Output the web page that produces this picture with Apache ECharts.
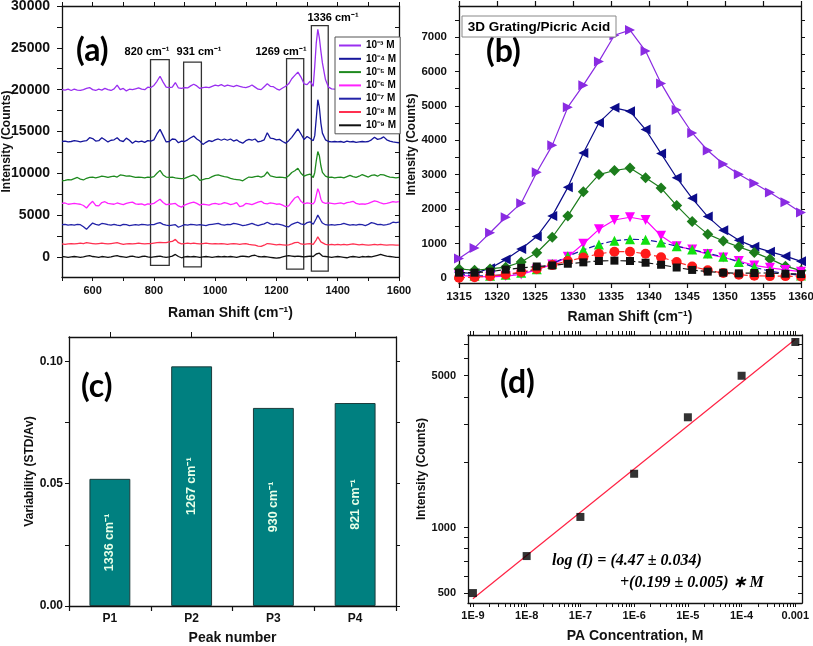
<!DOCTYPE html>
<html><head><meta charset="utf-8">
<script src="https://cdn.jsdelivr.net/npm/echarts@6/dist/echarts.min.js"></script>
<style>html,body{margin:0;padding:0;background:#fff}#c{width:813px;height:646px}</style>
</head><body><div id="c"></div>
<script>
// ---------- Panel (a): Raman spectra ----------
const ramanShift = [
 500,510,520,530,540,550,560,570,580,590,
 600,610,620,630,640,650,660,670,680,690,
 700,710,720,730,740,750,760,770,780,790,
 800,810,820,830,840,850,860,870,880,890,
 900,910,920,930,940,950,960,970,980,990,
 1000,1010,1020,1030,1040,1050,1060,1070,1080,1090,
 1100,1110,1120,1130,1140,1150,1160,1170,1180,1190,
 1200,1210,1220,1230,1240,1250,1260,1270,1280,1290,
 1300,1310,1320,1325,1330,1335,1340,1345,1350,1360,
 1370,1380,1390,1400,1410,1420,1430,1440,1450,1460,
 1470,1480,1490,1500,1510,1520,1530,1540,1550,1560,
 1570,1580,1590,1600];
const spec1e3 = [
 20000,19950,20050,19900,20050,19950,19900,20000,20150,20250,
 20000,19900,20050,19950,20150,20000,19900,20100,20550,20000,
 20150,19850,20050,20000,20100,20200,20050,20000,20300,20250,
 20500,21000,21600,20900,20300,20250,20300,20850,20200,20150,
 20250,20200,20450,20650,20450,20150,20250,20300,20250,20400,
 20550,20450,20600,20400,20550,20450,20350,20500,20400,20300,
 20250,20350,20550,20300,20050,20000,20350,20700,20400,20350,
 20100,19950,20200,20400,20700,21300,21700,22100,21500,20700,
 20600,21000,20400,22800,25600,27200,26200,24600,23200,21200,
 20300,20100,20050,20000,20100,20000,19950,20050,20000,19950,
 20050,20100,20000,19950,20050,20000,20100,20000,19950,20050,
 20000,19950,19900,19900];
const spec1e4 = [
 13800,13850,13750,13800,13900,13850,13750,13850,13900,14250,
 14150,13850,13900,14250,14000,13750,13950,14000,14250,13900,
 13800,14200,13950,13600,13850,13750,13850,13700,13900,13850,
 14000,14700,15250,14500,13750,13800,14100,14050,13650,13850,
 13800,14000,14250,14450,14100,13850,13450,13700,13900,13800,
 14000,14100,13950,14100,13950,14100,13850,14000,13750,13600,
 13900,14050,13950,14100,13750,13850,14000,14850,14200,14150,
 14000,14050,13800,13600,13900,14300,14800,15300,14700,14050,
 14400,14150,13900,14500,16600,18800,17900,16000,14800,14000,
 13800,13750,13800,13750,13800,13700,13850,13750,13800,13700,
 13750,13800,13750,13800,14000,14300,14050,14150,14350,14000,
 13850,13750,13700,13650];
const spec1e5 = [
 9100,9150,9250,9200,9350,9500,9300,9200,9400,9500,
 9550,9450,9550,9650,9600,9500,9600,9650,9550,9800,
 9750,9650,9700,9600,9500,9550,9500,9450,9550,9500,
 9600,10000,10350,9800,9550,9500,9550,9450,9400,9350,
 9400,9550,9700,9800,9600,9150,9250,9350,9400,9600,
 9750,9800,9700,9600,9550,9400,9300,9250,9200,9100,
 9350,9550,9500,9600,9650,9550,9700,10150,9700,9600,
 9500,9550,9500,9450,9700,10100,10300,10600,10000,9650,
 9800,9900,9500,10100,11500,12600,12100,10900,10100,9650,
 9500,9550,9450,9500,9550,9450,9600,9750,9600,9500,
 9650,9850,9700,9550,9750,9800,9650,9850,9800,9650,
 9550,9500,9450,9500];
const spec1e6 = [
 6400,6450,6300,6350,6400,6350,6300,6150,5850,6300,
 6650,6150,6100,6500,6600,6400,6350,6300,6450,6350,
 6250,6400,6500,6550,6350,6300,6350,6200,6350,6300,
 6400,6650,6900,6500,6250,6300,6350,6400,6100,5950,
 6200,6350,6450,6550,6400,6200,6300,6250,6200,6350,
 6400,6300,6350,6500,6400,6250,6350,6500,6000,6100,
 6400,6350,6250,6400,6550,6650,6400,6350,6450,6400,
 6300,6350,6200,6000,6100,6600,7050,7250,6650,6350,
 6450,6400,6350,6600,7400,8150,7700,6900,6550,6400,
 6450,6400,6350,6400,6450,6350,6500,6550,6650,6400,
 6300,6350,6300,6400,6550,6700,6600,6450,6350,6400,
 6500,6600,6550,6600];
const spec1e7 = [
 3850,3900,3800,3850,3800,3900,3850,3600,3300,3700,
 4050,3900,3800,4000,3950,3850,3800,3900,3800,3750,
 3900,3850,3750,3800,3850,3800,3900,3850,3800,3850,
 3850,4000,4100,3900,3800,3750,3800,3850,3550,3700,
 3850,3800,3900,3850,3800,3850,3800,3750,3850,3900,
 3950,4000,3850,3800,3900,3850,4000,3950,3850,3750,
 3800,3900,4000,3850,3750,3850,3950,4150,3950,3850,
 3950,3900,3800,3650,3600,3900,4050,4150,3950,3850,
 4100,4200,3900,4100,4600,5000,4850,4350,4050,3850,
 3800,3850,3800,3850,3900,4000,3900,3800,3850,3800,
 3900,3850,3750,3900,4100,4000,3850,3900,3800,3850,
 3950,4150,4100,4150];
const spec1e8 = [
 1550,1500,1550,1600,1550,1600,1650,1600,1700,1650,
 1600,1550,1600,1650,1600,1550,1600,1650,1700,1600,
 1500,1550,1600,1550,1600,1650,1600,1550,1600,1600,
 1650,1700,1750,1700,1700,1800,1850,2100,1700,1550,
 1600,1650,1600,1650,1600,1550,1600,1650,1600,1550,
 1600,1550,1600,1550,1500,1550,1600,1550,1500,1550,
 1600,1500,1450,1400,1300,1250,1400,1600,1550,1500,
 1450,1500,1450,1400,1450,1550,1700,1750,1550,1500,
 1550,1600,1500,1650,2050,2400,2200,1800,1600,1500,
 1450,1500,1450,1500,1450,1500,1450,1500,1550,1500,
 1450,1500,1450,1400,1450,1500,1450,1500,1450,1400,
 1450,1450,1400,1400];
const spec1e9 = [
 50,0,-50,0,50,0,-50,0,100,150,
 50,0,-50,50,0,-50,0,100,150,50,
 0,-50,50,100,0,-50,50,100,0,-50,
 0,50,100,0,-50,0,100,300,50,-100,
 0,50,0,50,0,-50,0,50,0,-50,
 0,50,0,50,0,50,0,-50,50,100,
 50,0,150,200,50,0,50,0,-50,-100,
 -150,-100,0,100,150,100,50,100,50,0,
 50,100,50,150,350,500,450,250,100,50,
 0,-50,0,50,0,-50,-100,0,50,0,
 -50,50,0,50,0,100,200,300,200,100,
 50,0,-50,-50];
const concNames = ['10⁻³ M','10⁻⁴ M','10⁻⁵ M','10⁻⁶ M','10⁻⁷ M','10⁻⁸ M','10⁻⁹ M'];
// highlighted peak boxes (x from, x to, y top, y bottom)
const boxFrom = [789, 897, 1233, 1314];
const boxTo = [850, 955, 1289, 1369];
const boxTop = [23600, 23300, 23700, 27650];
const boxBottom = [-1000, -1200, -1450, -1700];
const boxLabels = ['820 cm⁻¹', '931 cm⁻¹', '1269 cm⁻¹', '1336 cm⁻¹'];
const aXLabels = [600,800,1000,1200,1400,1600];
const aXTicks = [500,600,700,800,900,1000,1100,1200,1300,1400,1500,1600];
const aYLabels = [0,5000,10000,15000,20000,25000,30000];
const aYTicks = [0,2500,5000,7500,10000,12500,15000,17500,20000,22500,25000,27500,30000];

// ---------- Panel (b): 1336 peak zoom ----------
const shiftB = [1315,1317.05,1319.09,1321.14,1323.18,1325.23,1327.27,1329.32,1331.36,1333.41,1335.45,1337.5,
  1339.55,1341.59,1343.64,1345.68,1347.73,1349.77,1351.82,1353.86,1355.91,1357.95,1360];
const peak1e3 = [560,870,1310,1760,2170,3070,3850,4960,5600,6290,7050,7200,6590,5650,4880,4210,3700,3310,3010,2750,2480,2200,1900];
const peak1e4 = [150,130,280,530,840,1200,1800,2630,3630,4510,4940,4840,4310,3610,2910,2310,1780,1380,1090,900,760,630,480];
const peak1e5 = [260,220,260,310,460,730,1180,1800,2500,3000,3120,3190,2910,2610,2100,1640,1270,1070,900,740,550,340,210];
const peak1e6 = [70,40,30,50,100,240,390,610,990,1410,1680,1760,1680,1220,920,820,690,590,490,360,290,230,180];
const peak1e7 = [100,60,60,90,150,250,410,630,810,970,1080,1120,1110,1030,920,820,710,610,460,310,190,130,70];
const peak1e8 = [0,20,50,100,170,260,370,490,590,700,760,760,700,600,460,330,220,140,90,60,50,50,40];
const peak1e9 = [150,150,180,240,290,330,360,410,450,490,500,490,440,380,300,230,180,150,130,140,140,120,110];
const bYLabels = [0,1000,2000,3000,4000,5000,6000,7000];
const bYTicks = [0,500,1000,1500,2000,2500,3000,3500,4000,4500,5000,5500,6000,6500,7000,7500];

// ---------- Panel (c): variability ----------
const peakNames = ['P1','P2','P3','P4'];
const variability = [0.052, 0.098, 0.081, 0.083];
const peakLabels = ['1336 cm⁻¹','1267 cm⁻¹','930 cm⁻¹','821 cm⁻¹'];
const cYLabels = [0, 0.05, 0.1];
const cYTicks = [0, 0.025, 0.05, 0.075, 0.1];

// ---------- Panel (d): calibration ----------
const paConc = [1e-9,1e-8,1e-7,1e-6,1e-5,1e-4,1e-3];
const peakIntensity = [500, 740, 1120, 1770, 3220, 5000, 7150];
const fitConc = [1e-9, 1e-3];
const fitIntensity = [471, 7360];
const dXLabelText = ['1E-9','1E-8','1E-7','1E-6','1E-5','1E-4','0.001'];
const dYLabels = [500, 1000, 5000];
const dYTicks = [500,600,700,800,900,1000,2000,3000,4000,5000,6000,7000];

// ---------- build ----------
const F = '"Liberation Sans", Arial, sans-serif';
const black = '#111';
const colorsA = ['#9a2ff0','#16169c','#1f8a1f','#ff22ff','#2323a8','#ff3050','#111111'];
const specs = [spec1e3,spec1e4,spec1e5,spec1e6,spec1e7,spec1e8,spec1e9];
const dXTicks = [];
for (let e = -10; e <= -3; e++) for (let m = 1; m <= 9; m++) { const v = m * Math.pow(10, e); if (v >= 8.1e-10 && v <= 1.33e-3) dXTicks.push(+v.toPrecision(3)); }
const plain = v => String(Math.round(v));

function ax(o) {
  return Object.assign({
    axisLine: { show: true, onZero: false, lineStyle: { color: black, width: 1.3 } },
    axisTick: { show: true, length: 5, lineStyle: { color: black, width: 1.2 } },
    axisLabel: { color: black, fontWeight: 'bold', fontFamily: F, fontSize: 11 },
    splitLine: { show: false },
    nameTextStyle: { color: black, fontWeight: 'bold', fontFamily: F },
    nameLocation: 'middle',
    nameMoveOverlap: false
  }, o);
}
function mirror(o) { // frame axis without labels
  return ax(Object.assign({ axisLabel: { show: false } }, o));
}

const grids = [
  { left: 62, top: 6, width: 337, height: 271 },
  { left: 459, top: 6, width: 342, height: 277 },
  { left: 69, top: 337, width: 327, height: 269 },
  { left: 468, top: 335, width: 334, height: 268 }
].map(g => Object.assign({ containLabel: false, outerBoundsMode: 'none' }, g));

const xAxes = [
  ax({ gridIndex: 0, type: 'value', min: 500, max: 1600, name: 'Raman Shift (cm⁻¹)', nameGap: 29,
       nameTextStyle: { color: black, fontWeight: 'bold', fontFamily: F, fontSize: 14 },
       axisTick: { show: true, length: 4, customValues: aXTicks, lineStyle: { color: black } },
       axisLabel: { color: black, fontWeight: 'bold', fontFamily: F, fontSize: 11, margin: 8, customValues: aXLabels, formatter: plain } }),
  mirror({ gridIndex: 0, type: 'value', position: 'top', min: 500, max: 1600,
       axisTick: { show: true, length: 4, customValues: aXTicks, lineStyle: { color: black } } }),
  ax({ gridIndex: 1, type: 'value', min: 1315, max: 1360, interval: 5, name: 'Raman Shift (cm⁻¹)', nameGap: 27,
       nameTextStyle: { color: black, fontWeight: 'bold', fontFamily: F, fontSize: 14 },
       axisLabel: { color: black, fontWeight: 'bold', fontFamily: F, fontSize: 11.5, margin: 8, formatter: plain } }),
  mirror({ gridIndex: 1, type: 'value', position: 'top', min: 1315, max: 1360, interval: 5 }),
  ax({ gridIndex: 2, type: 'category', data: peakNames, name: 'Peak number', nameGap: 25,
       nameTextStyle: { color: black, fontWeight: 'bold', fontFamily: F, fontSize: 14 },
       axisLabel: { color: black, fontWeight: 'bold', fontFamily: F, fontSize: 12, margin: 7 } }),
  mirror({ gridIndex: 2, type: 'category', data: peakNames, position: 'top',
       axisTick: { show: true, length: 5, alignWithLabel: true, lineStyle: { color: black } } }),
  ax({ gridIndex: 3, type: 'log', min: 8.1e-10, max: 1.33e-3, name: 'PA Concentration, M', nameGap: 26,
       nameTextStyle: { color: black, fontWeight: 'bold', fontFamily: F, fontSize: 14 },
       axisTick: { show: true, length: 4, customValues: dXTicks, lineStyle: { color: black } },
       axisLabel: { color: black, fontWeight: 'bold', fontFamily: F, fontSize: 11, margin: 7, customValues: paConc,
         formatter: v => dXLabelText[Math.round(Math.log10(v)) + 9] } }),
  mirror({ gridIndex: 3, type: 'log', position: 'top', min: 8.1e-10, max: 1.33e-3,
       axisTick: { show: true, length: 4, customValues: dXTicks, lineStyle: { color: black } } })
];

const yAxes = [
  ax({ gridIndex: 0, type: 'value', min: -2400, max: 30000, name: 'Intensity (Counts)', nameGap: 49,
       nameTextStyle: { color: black, fontWeight: 'bold', fontFamily: F, fontSize: 12 },
       axisTick: { show: true, length: 5, customValues: aYTicks, lineStyle: { color: black } },
       axisLabel: { color: black, fontWeight: 'bold', fontFamily: F, fontSize: 14, margin: 12, customValues: aYLabels, formatter: plain } }),
  mirror({ gridIndex: 0, type: 'value', position: 'right', min: -2400, max: 30000,
       axisTick: { show: true, inside: true, length: 4, customValues: aYTicks, lineStyle: { color: black } } }),
  ax({ gridIndex: 1, type: 'value', min: -150, max: 7900, name: 'Intensity (Counts)', nameGap: 41,
       nameTextStyle: { color: black, fontWeight: 'bold', fontFamily: F, fontSize: 12 },
       axisTick: { show: true, length: 4, customValues: bYTicks, lineStyle: { color: black } },
       axisLabel: { color: black, fontWeight: 'bold', fontFamily: F, fontSize: 11.5, margin: 12, customValues: bYLabels, formatter: plain } }),
  mirror({ gridIndex: 1, type: 'value', position: 'right', min: -150, max: 7900,
       axisTick: { show: true, length: 4, customValues: bYTicks, lineStyle: { color: black } } }),
  ax({ gridIndex: 2, type: 'value', min: 0, max: 0.11, name: 'Variability (STD/Av)', nameGap: 33,
       nameTextStyle: { color: black, fontWeight: 'bold', fontFamily: F, fontSize: 12 },
       axisTick: { show: true, length: 4, customValues: cYTicks, lineStyle: { color: black } },
       axisLabel: { color: black, fontWeight: 'bold', fontFamily: F, fontSize: 12, margin: 6, customValues: cYLabels,
         formatter: v => v.toFixed(2) } }),
  mirror({ gridIndex: 2, type: 'value', position: 'right', min: 0, max: 0.11,
       axisTick: { show: true, length: 4, customValues: cYTicks, lineStyle: { color: black } } }),
  ax({ gridIndex: 3, type: 'log', min: 450, max: 7700, name: 'Intensity (Counts)', nameGap: 40,
       nameTextStyle: { color: black, fontWeight: 'bold', fontFamily: F, fontSize: 12 },
       axisTick: { show: true, length: 4, customValues: dYTicks, lineStyle: { color: black } },
       axisLabel: { color: black, fontWeight: 'bold', fontFamily: F, fontSize: 11, margin: 12, customValues: dYLabels, formatter: plain } }),
  mirror({ gridIndex: 3, type: 'log', position: 'right', min: 450, max: 7700,
       axisTick: { show: true, inside: true, length: 4, customValues: dYTicks, lineStyle: { color: black } } })
];

const series = [];
specs.forEach((arr, k) => {
  const s = {
    name: concNames[k], type: 'line', xAxisIndex: 0, yAxisIndex: 0,
    data: ramanShift.map((x, i) => [x, arr[i]]),
    showSymbol: false, symbol: 'none', lineStyle: { width: 1.3, color: colorsA[k] },
    itemStyle: { color: colorsA[k] }, animation: false, z: 3
  };
  if (k === 0) {
    s.markArea = {
      silent: true,
      itemStyle: { color: 'rgba(0,0,0,0)', borderColor: '#333', borderWidth: 1.3 },
      data: boxFrom.map((x0, i) => [{ xAxis: x0, yAxis: boxTop[i] }, { xAxis: boxTo[i], yAxis: boxBottom[i] }])
    };
  }
  series.push(s);
});

const bDefs = [
  { d: peak1e3, line: '#8a2be2', mk: '#8a2be2', sym: 'triangle', rot: -90, dash: 'solid' },
  { d: peak1e4, line: '#0c0c8a', mk: '#0c0c8a', sym: 'triangle', rot: 90, dash: 'solid' },
  { d: peak1e5, line: '#1c7d1c', mk: '#1c7d1c', sym: 'diamond', rot: 0, dash: 'solid' },
  { d: peak1e6, line: '#ff00ff', mk: '#ff00ff', sym: 'triangle', rot: 180, dash: 'solid' },
  { d: peak1e7, line: '#1a1aa8', mk: '#10e010', sym: 'triangle', rot: 0, dash: [6, 3] },
  { d: peak1e8, line: '#ff2a2a', mk: '#ff1a1a', sym: 'circle', rot: 0, dash: [6, 3] },
  { d: peak1e9, line: '#111', mk: '#111', sym: 'rect', rot: 0, dash: [6, 3] }
];
bDefs.forEach((b, k) => {
  series.push({
    name: 'b ' + concNames[k], type: 'line', xAxisIndex: 2, yAxisIndex: 2,
    data: shiftB.map((x, i) => [x, b.d[i]]),
    symbol: b.sym, symbolRotate: b.rot, symbolSize: b.sym === 'diamond' ? 11 : (b.sym === 'rect' ? 8 : 10),
    lineStyle: { width: 1.2, color: b.line, type: b.dash },
    itemStyle: { color: b.mk }, animation: false, z: 3 + k
  });
});

series.push({
  name: 'variability', type: 'bar', xAxisIndex: 4, yAxisIndex: 4,
  data: variability, barWidth: '50%',
  itemStyle: { color: '#008080', borderColor: '#1b3b3b', borderWidth: 1 },
  label: { show: true, position: 'inside', rotate: 90, color: '#e8ffe8', fontWeight: 'bold', fontFamily: F, fontSize: 12.5,
    formatter: p => peakLabels[p.dataIndex] },
  animation: false
});

series.push({
  name: 'fit', type: 'line', xAxisIndex: 6, yAxisIndex: 6,
  data: fitConc.map((x, i) => [x, fitIntensity[i]]),
  showSymbol: false, symbol: 'none', lineStyle: { width: 1.2, color: '#ff2244' }, animation: false
});
series.push({
  name: 'intensity', type: 'scatter', xAxisIndex: 6, yAxisIndex: 6,
  data: paConc.map((x, i) => [x, peakIntensity[i]]),
  symbol: 'rect', symbolSize: 8, itemStyle: { color: '#000' }, animation: false, z: 4
});

const boxLabelPos = [[147, 52], [199, 52], [281, 52], [333, 18]];
const graphic = [
  { type: 'text', x: 76, y: 51, style: { text: '(a)', font: 'bold 32px Lato, "Open Sans", sans-serif', fill: '#000', verticalAlign: 'middle', align: 'left' } },
  { type: 'text', x: 486, y: 52, style: { text: '(b)', font: 'bold 32px Lato, "Open Sans", sans-serif', fill: '#000', verticalAlign: 'middle', align: 'left' } },
  { type: 'text', x: 81, y: 387, style: { text: '(c)', font: 'bold 32px Lato, "Open Sans", sans-serif', fill: '#000', verticalAlign: 'middle', align: 'left' } },
  { type: 'text', x: 500, y: 383, style: { text: '(d)', font: 'bold 32px Lato, "Open Sans", sans-serif', fill: '#000', verticalAlign: 'middle', align: 'left' } },
  { type: 'rect', shape: { x: 462, y: 16, width: 154, height: 21 }, style: { fill: '#fff', stroke: '#888', lineWidth: 1 }, z: 10 },
  { type: 'text', x: 539, y: 27, z: 11, style: { text: '3D Grating/Picric Acid', font: 'bold 13.5px ' + F, fill: '#000', align: 'center', verticalAlign: 'middle' } },
  { type: 'text', x: 552, y: 561, style: { text: 'log (I) = (4.47 ± 0.034)', font: 'italic bold 16px "Liberation Serif", serif', fill: '#000', align: 'left', verticalAlign: 'middle' } },
  { type: 'text', x: 620, y: 583, style: { text: '+(0.199 ± 0.005) ∗ M', font: 'italic bold 16px "Liberation Serif", serif', fill: '#000', align: 'left', verticalAlign: 'middle' } }
].concat(boxLabels.map((t, i) => ({
  type: 'text', x: boxLabelPos[i][0], y: boxLabelPos[i][1],
  style: { text: t, font: 'bold 11px ' + F, fill: '#000', align: 'center', verticalAlign: 'middle' }
})));

const chart = echarts.init(document.getElementById('c'), null, { renderer: 'canvas' });
chart.setOption({
  backgroundColor: '#fff',
  animation: false,
  textStyle: { fontFamily: F },
  grid: grids,
  xAxis: xAxes,
  yAxis: yAxes,
  legend: {
    data: concNames, orient: 'vertical', left: 335, top: 37,
    icon: 'rect', itemWidth: 22, itemHeight: 2, itemGap: 2.3,
    padding: [3, 4, 3, 4], borderColor: '#555', borderWidth: 1, backgroundColor: '#fff',
    textStyle: { fontSize: 10, fontWeight: 'bold', fontFamily: F, color: '#000', lineHeight: 11 },
    selectedMode: false
  },
  series: series,
  graphic: graphic
});
</script></body></html>
